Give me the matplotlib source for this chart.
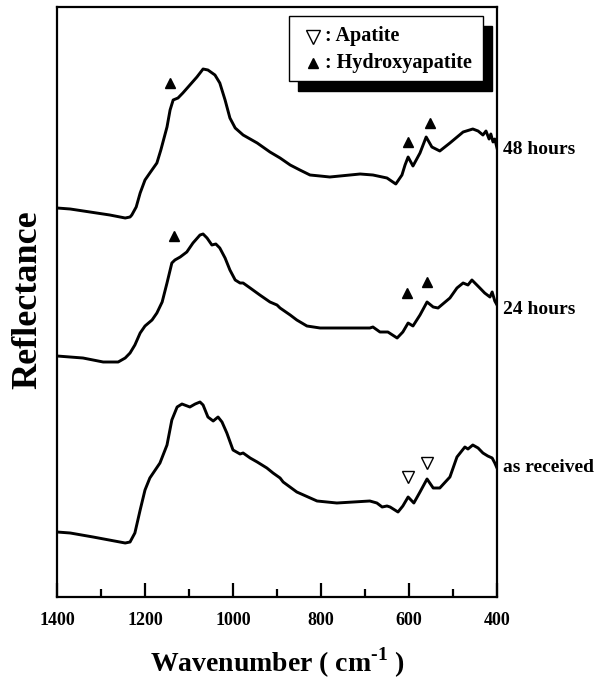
import matplotlib
matplotlib.use("Agg")
import matplotlib.pyplot as plt
from matplotlib.patches import Rectangle
from matplotlib.transforms import offset_copy

plt.rcParams["font.family"] = ["Liberation Serif", "DejaVu Serif"]
plt.rcParams["font.weight"] = "bold"
plt.rcParams["mathtext.fontset"] = "custom"
plt.rcParams["mathtext.rm"] = "Liberation Serif:bold"
plt.rcParams["mathtext.bf"] = "Liberation Serif:bold"

# ── spectra (wavenumber in cm-1, reflectance in arbitrary units) ──────────
wn_48h = [1400, 1370, 1325, 1280, 1245, 1234, 1230, 1220, 1211, 1200, 1189,
          1173, 1164, 1150, 1143, 1136, 1125, 1114, 1098, 1082, 1068, 1057,
          1041, 1030, 1018, 1007, 995, 977, 945, 916, 893, 870, 848, 825, 802,
          780, 711, 682, 650, 630, 616, 609, 602, 591, 575, 561, 548, 530, 507,
          477, 455, 443, 432, 425, 418, 414, 409, 405, 400]
r_48h = [389, 388, 385, 382, 379, 380, 382, 390, 404, 417, 424,
         434, 447, 470, 487, 497, 499, 504, 512, 520, 528, 527,
         522, 514, 497, 479, 469, 462, 454, 445, 439, 432, 427, 422, 421,
         420, 423, 422, 419, 413, 422, 432, 440, 431, 444, 460, 450, 446, 454,
         465, 468, 466, 462, 466, 458, 463, 455, 458, 449]

wn_24h = [1400, 1341, 1295, 1261, 1245, 1234, 1223, 1211, 1200, 1184, 1173,
          1161, 1150, 1139, 1132, 1120, 1105, 1091, 1075, 1068, 1059, 1048,
          1039, 1030, 1018, 1007, 995, 984, 977, 961, 939, 916, 900, 893, 870,
          855, 832, 802, 689, 682, 666, 648, 627, 614, 602, 591, 575, 559, 545,
          534, 507, 491, 477, 466, 457, 448, 439, 428, 416, 411, 405, 400]
r_24h = [241, 239, 235, 235, 239, 244, 252, 264, 271, 277, 284,
         295, 314, 334, 337, 340, 345, 354, 362, 363, 359, 352,
         353, 349, 339, 327, 317, 314, 314, 309, 302, 295, 292, 289, 282,
         277, 271, 269, 269, 270, 265, 265, 259, 265, 274, 271, 282, 295, 290,
         289, 299, 309, 314, 312, 317, 313, 309, 304, 300, 305, 296, 292]

wn_recv = [1400, 1370, 1318, 1245, 1234, 1223, 1211, 1200, 1189, 1166, 1150,
           1139, 1127, 1116, 1098, 1086, 1075, 1068, 1057, 1045, 1034, 1025,
           1014, 1000, 984, 977, 961, 945, 923, 909, 893, 886, 855, 809, 764,
           689, 673, 661, 650, 643, 625, 614, 602, 589, 575, 559, 545, 530, 507,
           491, 473, 466, 455, 443, 432, 421, 411, 405, 400]
r_recv = [65, 64, 60, 54, 55, 64, 87, 107, 119, 134, 152,
          177, 190, 193, 190, 193, 195, 192, 180, 176, 180, 175,
          164, 147, 143, 144, 139, 135, 129, 124, 119, 115, 105, 96, 94,
          96, 94, 90, 91, 90, 85, 91, 100, 94, 105, 118, 109, 109, 120,
          140, 150, 148, 152, 149, 144, 141, 139, 134, 129]

# peak assignments (wavenumber, height of marker)
hap_48h_wn = [1143, 602, 552]
hap_48h_y = [514, 455, 474]
hap_24h_wn = [1134, 605, 559]
hap_24h_y = [361, 304, 315]
apa_recv_wn = [602, 559]
apa_recv_y = [120, 134]

sample_labels = ["48 hours", "24 hours", "as received"]
label_y = [448, 288, 130]

fig = plt.figure(figsize=(6.04, 6.85), dpi=100)
ax = fig.add_axes([57 / 604, 88 / 685, 440 / 604, 590 / 685])

for wn, r in [(wn_48h, r_48h), (wn_24h, r_24h), (wn_recv, r_recv)]:
    ax.plot(wn, r, color="black", linewidth=2.1, solid_joinstyle="round")

ax.plot(hap_48h_wn, hap_48h_y, "^", color="black", markersize=6.5, linestyle="none")
ax.plot(hap_24h_wn, hap_24h_y, "^", color="black", markersize=6.5, linestyle="none")
ax.plot(apa_recv_wn, apa_recv_y, "v", markerfacecolor="white", markeredgecolor="black",
        markeredgewidth=1.0, markersize=9, linestyle="none")

ax.set_xlim(1400, 400)
ax.set_ylim(0, 590)
ax.set_xticks([1400, 1200, 1000, 800, 600, 400])
ax.set_xticks([1300, 1100, 900, 700, 500], minor=True)
ax.set_yticks([])
ax.tick_params(axis="x", which="major", direction="in", length=10, width=1.6,
               labelsize=13, pad=11)
ax.tick_params(axis="x", which="minor", direction="in", length=6, width=1.6)
for lab in ax.get_xticklabels():
    lab.set_fontweight("bold")
for sp in ax.spines.values():
    sp.set_linewidth(1.6)

# sample names on the right edge
ytrans = ax.get_yaxis_transform()
for name, y in zip(sample_labels, label_y):
    ax.text(1.013, y, name, transform=ytrans, fontsize=14, fontweight="bold",
            va="center", ha="left", clip_on=False)

# legend box with drop shadow
x0, y0, w, h = 0.527, 0.875, 0.441, 0.110
shadow_tr = offset_copy(ax.transAxes, fig=fig, x=9, y=-10, units="dots")
ax.add_patch(Rectangle((x0, y0), w, h, transform=shadow_tr, facecolor="black",
                       edgecolor="black", zorder=5, clip_on=False))
ax.add_patch(Rectangle((x0, y0), w, h, transform=ax.transAxes, facecolor="white",
                       edgecolor="black", linewidth=1.0, zorder=6, clip_on=False))
ax.plot([0.582], [0.950], "v", transform=ax.transAxes, markerfacecolor="white",
        markeredgecolor="black", markeredgewidth=1.0, markersize=10, zorder=7)
ax.plot([0.582], [0.905], "^", transform=ax.transAxes, color="black",
        markersize=7.5, zorder=7)
ax.text(0.609, 0.950, ": Apatite", transform=ax.transAxes, fontsize=14.5,
        fontweight="bold", va="center", ha="left", zorder=7)
ax.text(0.609, 0.905, ": Hydroxyapatite", transform=ax.transAxes, fontsize=14.5,
        fontweight="bold", va="center", ha="left", zorder=7)

fig.text(28 / 604, 1 - 300 / 685, "Reflectance", rotation=90, fontsize=26,
         fontweight="bold", ha="center", va="center")
fig.text(277 / 604, 1 - 663 / 685, r"Wavenumber ( cm$^{\text{-1}}$ )",
         fontsize=20, fontweight="bold", ha="center", va="center")

fig.savefig("out.png", dpi=100)
plt.close(fig)
